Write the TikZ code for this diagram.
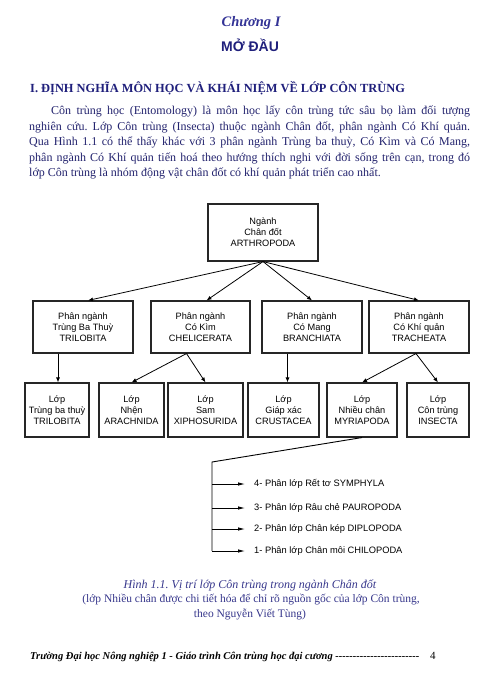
\documentclass[tikz,border=0pt]{standalone}
\usepackage{fontspec}
\setmainfont{Liberation Serif}
\newfontfamily\dg{Liberation Sans}
\usetikzlibrary{arrows.meta,calc}
\definecolor{navy}{RGB}{35,35,110}
\definecolor{headblue}{RGB}{51,51,150}
\definecolor{capblue}{RGB}{55,55,140}
\newcommand\dd{-\kern0pt}
\frenchspacing
\begin{document}
\begin{tikzpicture}[x=1pt,y=-1pt,
  box/.style={draw=black!85, line width=1.1pt, inner sep=0pt, align=center,
    font={\dg\fontsize{9.2}{11}\selectfont}},
  arr/.style={line width=0.8pt, -{Latex[length=5pt,width=4pt]}},
  arrlist/.style={line width=0.8pt, -{Latex[length=7pt,width=3.5pt]}, shorten >=9pt},
  link/.style={line width=0.9pt},
  bodyline/.style={anchor=base west, inner sep=0pt, text=navy,
    font={\fontsize{12}{15}\selectfont}},
  listlabel/.style={anchor=west, inner sep=0pt, font={\dg\fontsize{9.3}{11}\selectfont}},
  caption/.style={anchor=base, inner sep=0pt, text=capblue, font={\fontsize{11.5}{14}\selectfont}}
]
\useasboundingbox[fill=white] (0,0) rectangle (498,684);

% headings
\node[anchor=base, inner sep=0pt, text=headblue, font={\bfseries\itshape\fontsize{14.5}{17}\selectfont}] (chap) at (251,26.7) {Chương I};
\node[anchor=base, inner sep=0pt, text=navy!90!blue, font={\dg\bfseries\fontsize{14}{17}\selectfont}] (title) at (250,52) {MỞ ĐẦU};
\node[anchor=base west, inner sep=0pt, text=navy!90!blue, font={\bfseries\fontsize{12.4}{16}\selectfont}] (sec) at (30,93) {I. ĐỊNH NGHĨA MÔN HỌC VÀ KHÁI NIỆM VỀ LỚP CÔN TRÙNG};

% paragraph
\node[bodyline] (p1) at (29,115) {\hbox to 441pt{\hskip22pt Côn trùng học (Entomology) là môn học lấy côn trùng tức sâu bọ làm đối tượng}};
\node[bodyline] (p2) at (29,130.5) {\hbox to 441pt{nghiên cứu. Lớp Côn trùng (Insecta) thuộc ngành Chân đốt, phân ngành Có Khí quản.}};
\node[bodyline] (p3) at (29,146) {\hbox to 441pt{Qua Hình 1.1 có thể thấy khác với 3 phân ngành Trùng ba thuỳ, Có Kìm và Có Mang,}};
\node[bodyline] (p4) at (29,161.5) {\hbox to 441pt{phân ngành Có Khí quản tiến hoá theo hướng thích nghi với đời sống trên cạn, trong đó}};
\node[bodyline] (p5) at (29,176.5) {lớp Côn trùng là nhóm động vật chân đốt có khí quản phát triển cao nhất.};

% diagram boxes
\node[box, minimum width=110pt, minimum height=57pt] (top) at (263,232.5) {Ngành\\Chân đốt\\ARTHROPODA};

\node[box, minimum width=100pt, minimum height=52pt] (b1) at (83,327) {Phân ngành\\Trùng Ba Thuỳ\\TRILOBITA};
\node[box, minimum width=99pt, minimum height=52pt] (b2) at (200.5,327) {Phân ngành\\Có Kìm\\CHELICERATA};
\node[box, minimum width=100pt, minimum height=52pt] (b3) at (312,327) {Phân ngành\\Có Mang\\BRANCHIATA};
\node[box, minimum width=100pt, minimum height=52pt] (b4) at (419,327) {Phân ngành\\Có Khí quản\\TRACHEATA};

\node[box, minimum width=64pt, minimum height=54pt] (l1) at (57,410) {Lớp\\Trùng ba thuỳ\\TRILOBITA};
\node[box, minimum width=65pt, minimum height=54pt] (l2) at (131.5,410) {Lớp\\Nhện\\ARACHNIDA};
\node[box, minimum width=75pt, minimum height=54pt] (l3) at (205.5,410) {Lớp\\Sam\\XIPHOSURIDA};
\node[box, minimum width=71pt, minimum height=54pt] (l4) at (283.5,410) {Lớp\\Giáp xác\\CRUSTACEA};
\node[box, minimum width=70pt, minimum height=54pt] (l5) at (362,410) {Lớp\\Nhiều chân\\MYRIAPODA};
\node[box, minimum width=62pt, minimum height=54pt] (l6) at (438,410) {Lớp\\Côn trùng\\INSECTA};

% connectors level 1 -> 2
\draw[arr] (top.south) -- ([xshift=5pt]b1.north);
\draw[arr] (top.south) -- ([xshift=6pt]b2.north);
\draw[arr] (top.south) -- (b3.north);
\draw[arr] (top.south) -- (b4.north);

% connectors level 2 -> 3
\draw[arr] ([xshift=1pt]l1.north |- b1.south) -- ([xshift=1pt]l1.north);
\draw[arr] ([xshift=-14pt]b2.south) -- (l2.north);
\draw[arr] ([xshift=-14pt]b2.south) -- (l3.north);
\draw[arr] ([xshift=4pt]l4.north |- b3.south) -- ([xshift=4pt]l4.north);
\draw[arr] ([xshift=-3pt]b4.south) -- (l5.north);
\draw[arr] ([xshift=-3pt]b4.south) -- (l6.north);

% Myriapoda subclasses
\coordinate (c1) at (212,462);
\coordinate (c2) at (212,551);
\node[listlabel] (s4) at (254,484) {4- Phân lớp Rết tơ SYMPHYLA};
\node[listlabel] (s3) at (254,508) {3- Phân lớp Râu chẻ PAUROPODA};
\node[listlabel] (s2) at (254,529) {2- Phân lớp Chân kép DIPLOPODA};
\node[listlabel] (s1) at (254,551) {1- Phân lớp Chân môi CHILOPODA};
\draw[link] (l5.south) -- (c1) -- (c2);
\draw[arrlist] (c1 |- s4.west) -- (s4.west);
\draw[arrlist] (c1 |- s3.west) -- (s3.west);
\draw[arrlist] (c1 |- s2.west) -- (s2.west);
\draw[arrlist] (c2) -- (s1.west);

% caption
\node[caption, font={\itshape\fontsize{12}{14}\selectfont}] (cap1) at (250,588) {Hình 1.1. Vị trí lớp Côn trùng trong ngành Chân đốt};
\node[caption] (cap2) at (251,602) {(lớp Nhiều chân được chi tiết hóa để chỉ rõ nguồn gốc của lớp Côn trùng,};
\node[caption] (cap3) at (250,617) {theo Nguyễn Viết Tùng)};

% footer
\node[anchor=base west, inner sep=0pt, font={\bfseries\itshape\fontsize{10.5}{13}\selectfont}] (foot) at (30,659) {Trường Đại học Nông nghiệp 1 - Giáo trình Côn trùng học đại cương \dd\dd\dd\dd\dd\dd\dd\dd\dd\dd\dd\dd\dd\dd\dd\dd\dd\dd\dd\dd\dd\dd\dd\dd};
\node[anchor=base west, inner sep=0pt, font={\fontsize{11}{13}\selectfont}] (pnum) at (430,659) {4};
\end{tikzpicture}
\end{document}
